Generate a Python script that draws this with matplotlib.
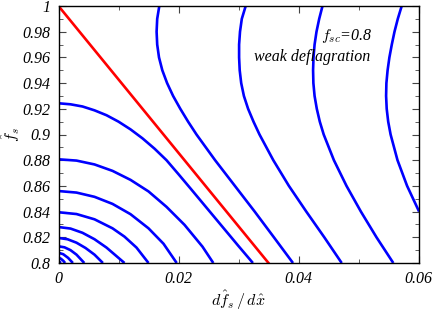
import matplotlib
matplotlib.use("Agg")
import matplotlib.pyplot as plt
from matplotlib.ticker import MultipleLocator, FuncFormatter

# ---- data ----
# lower family: curves leaving the f_s axis (x = 0)
low1_x = [0.0, 0.002, 0.004, 0.006, 0.008, 0.010, 0.012, 0.014, 0.016, 0.018, 0.020,
          0.022, 0.024, 0.026, 0.028, 0.030, 0.0324]
low1_y = [0.9243, 0.9235, 0.9218, 0.9188, 0.9150, 0.9100, 0.9040, 0.8970, 0.8890, 0.8800,
          0.8691, 0.8580, 0.8468, 0.8356, 0.8244, 0.8132, 0.8000]
low2_x = [0.0, 0.003, 0.006, 0.009, 0.012, 0.015, 0.018, 0.021, 0.024, 0.0258]
low2_y = [0.8807, 0.8797, 0.8767, 0.8717, 0.8647, 0.8557, 0.8437, 0.8297, 0.8127, 0.8000]
low3_x = [0.0, 0.003, 0.006, 0.009, 0.012, 0.015, 0.0175, 0.0197]
low3_y = [0.8560, 0.8548, 0.8515, 0.8460, 0.8380, 0.8270, 0.8150, 0.8000]
low4_x = [0.0, 0.003, 0.006, 0.009, 0.011, 0.013, 0.015]
low4_y = [0.8395, 0.8381, 0.8340, 0.8270, 0.8205, 0.8120, 0.8000]
low5_x = [0.0, 0.002, 0.004, 0.006, 0.008, 0.0095, 0.011]
low5_y = [0.8280, 0.8268, 0.8235, 0.8185, 0.8120, 0.8060, 0.8000]
low6_x = [0.0, 0.0015, 0.003, 0.0045, 0.006, 0.0074]
low6_y = [0.8195, 0.8185, 0.8158, 0.8117, 0.8065, 0.8000]
low7_x = [0.0, 0.001, 0.002, 0.003, 0.0043]
low7_y = [0.8130, 0.8122, 0.8100, 0.8065, 0.8000]
low8_x = [0.0, 0.0008, 0.0016, 0.0024]
low8_y = [0.8080, 0.8068, 0.8040, 0.8000]
low9_x = [0.0, 0.0004, 0.0008, 0.0011]
low9_y = [0.8041, 0.8033, 0.8017, 0.8000]
low10_x = [0.0, 0.0002, 0.0004]
low10_y = [0.8013, 0.8008, 0.8000]

# upper family: curves entering from the top (f_s = 1), sampled along f_s
up_y = [1.00, 0.99, 0.98, 0.97, 0.96, 0.95, 0.94, 0.93, 0.92, 0.91, 0.90,
        0.88, 0.86, 0.84, 0.82, 0.80]
up1_x = [0.0168, 0.01645, 0.01635, 0.01645, 0.01675, 0.0173, 0.0181, 0.0191, 0.0203,
         0.0216, 0.0230, 0.0261, 0.0294, 0.0327, 0.0359, 0.03908]
up2_x = [0.0312, 0.03055, 0.03025, 0.0301, 0.0301, 0.0302, 0.03045, 0.0309, 0.0316,
         0.0325, 0.0335, 0.0358, 0.0384, 0.0413, 0.0443, 0.0472]
up3_x = [0.0440, 0.04345, 0.0430, 0.04268, 0.0425, 0.04243, 0.04248, 0.04268, 0.04305,
         0.04355, 0.0442, 0.0459, 0.0480, 0.0504, 0.0530, 0.0558]
up4_x = [0.0572, 0.05655, 0.0560, 0.05555, 0.05515, 0.05485, 0.05465, 0.0546, 0.0547,
         0.05495, 0.05535, 0.0565, 0.0581, 0.0601]

# red separatrix
red_x = [0.0, 0.0350]
red_y = [1.0, 0.8]

x_ticks = [0, 0.02, 0.04, 0.06]
y_ticks = [0.8, 0.82, 0.84, 0.86, 0.88, 0.9, 0.92, 0.94, 0.96, 0.98, 1.0]

# ---- figure ----
plt.rcParams['mathtext.fontset'] = 'cm'

fig = plt.figure(figsize=(4.36, 3.12), dpi=100)
ax = fig.add_axes([58.5 / 436, 49 / 312, 360 / 436, 257 / 312])

blue_curves = [(low1_x, low1_y), (low2_x, low2_y), (low3_x, low3_y), (low4_x, low4_y),
               (low5_x, low5_y), (low6_x, low6_y), (low7_x, low7_y), (low8_x, low8_y),
               (low9_x, low9_y), (low10_x, low10_y),
               (up1_x, up_y), (up2_x, up_y), (up3_x, up_y), (up4_x, up_y[:len(up4_x)])]
for cx, cy in blue_curves:
    ax.plot(cx, cy, color='#0000ff', lw=1.9, solid_joinstyle='round', solid_capstyle='butt')
ax.plot(red_x, red_y, color='#ff0000', lw=1.9)

ax.set_xlim(0, 0.06)
ax.set_ylim(0.8, 1.0)
ax.set_xticks(x_ticks)
ax.set_yticks(y_ticks)
ax.xaxis.set_minor_locator(MultipleLocator(0.01))
ax.yaxis.set_minor_locator(MultipleLocator(0.01))


def fmt(v, pos):
    return f"{v:.2f}".rstrip('0').rstrip('.')


ax.xaxis.set_major_formatter(FuncFormatter(fmt))
ax.yaxis.set_major_formatter(FuncFormatter(fmt))
for lab in ax.get_xticklabels() + ax.get_yticklabels():
    lab.set_fontfamily('Liberation Serif')
    lab.set_fontstyle('italic')
    lab.set_fontsize(11.5)

ax.tick_params(which='both', direction='in', top=True, right=True, color='#444444')
ax.tick_params(which='major', length=5, width=0.8, pad=6)
ax.tick_params(which='minor', length=3, width=0.6)
for sp in ax.spines.values():
    sp.set_linewidth(1.0)

ax.set_xlabel(r'$d\hat{f}_s\,/\,d\hat{x}$', fontsize=11.5)
ax.xaxis.set_label_coords(0.5, -0.10)
ax.set_ylabel(r'$\hat{f}_s$', fontsize=11.5)
ax.yaxis.set_label_coords(-0.10, 0.5)

ax.text(0.0481, 0.977, r'$f_{sc}$' + '=0.8', ha='center', va='center',
        fontfamily='Liberation Serif', fontstyle='italic', fontsize=11.5)
ax.text(0.0519, 0.960, 'weak deflagration', ha='right', va='center',
        fontfamily='Liberation Serif', fontstyle='italic', fontsize=11.5)

fig.savefig('out.png', dpi=100)
